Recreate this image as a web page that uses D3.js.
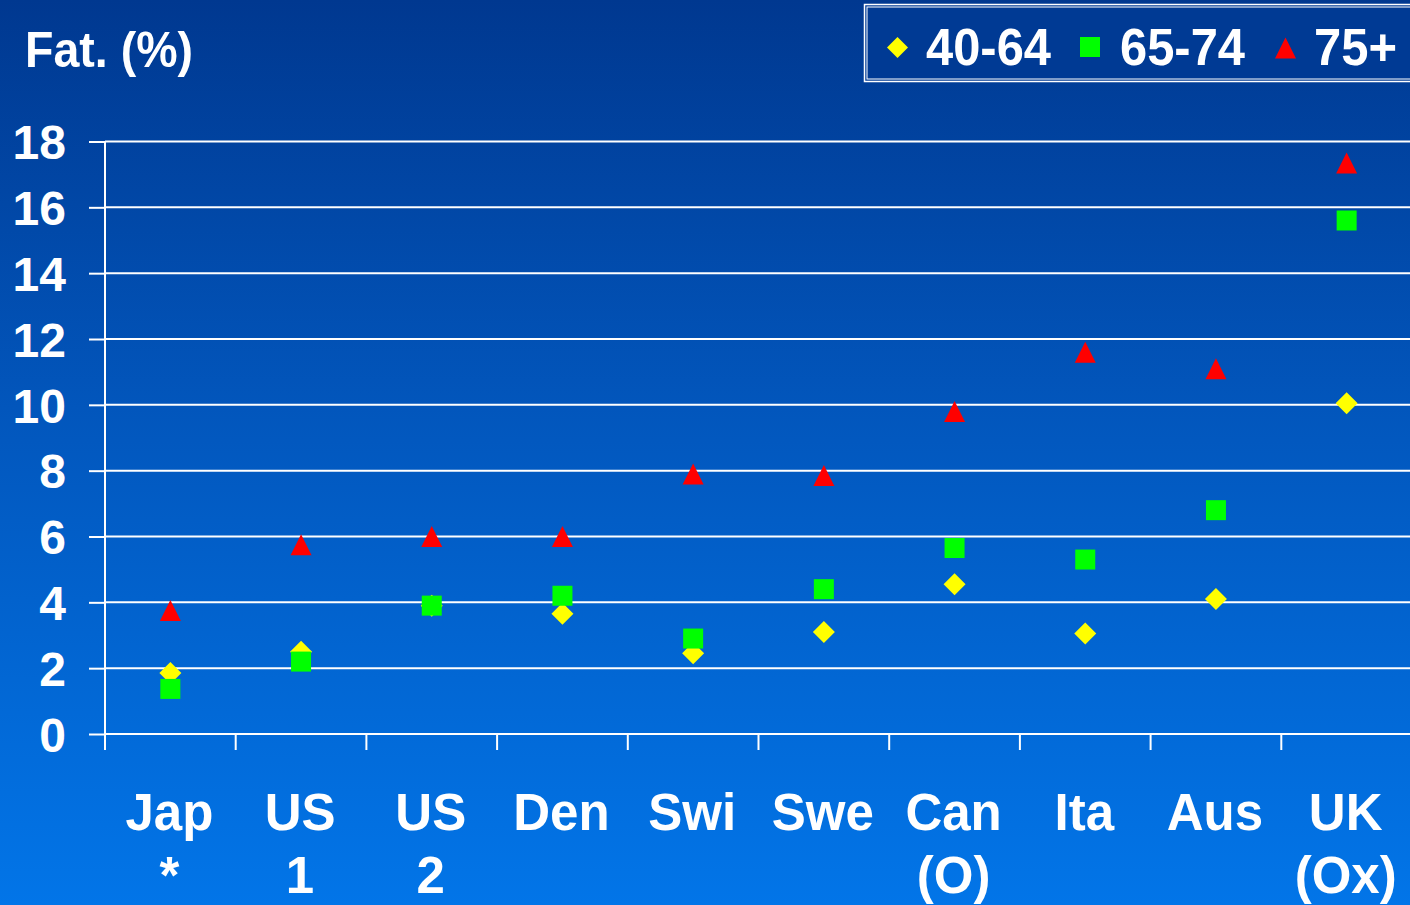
<!DOCTYPE html>
<html>
<head>
<meta charset="utf-8">
<script src="https://cdn.jsdelivr.net/npm/d3@7"></script>
<style>
html,body{margin:0;padding:0;background:#0050b0;}
svg{display:block;}
text{font-family:"Liberation Sans",Arial,sans-serif;font-weight:bold;fill:#fff;}
</style>
</head>
<body>
<script>
// ---- data ----
const catLine1 = ["Jap","US","US","Den","Swi","Swe","Can","Ita","Aus","UK"];
const catLine2 = ["*","1","2","","","","(O)","","","(Ox)"];
const series = ["40-64","65-74","75+"];
const age40_64 = [1.85, 2.5, 3.9, 3.65, 2.45, 3.1, 4.55, 3.05, 4.1, 10.05];
const age65_74 = [1.37, 2.2, 3.9, 4.2, 2.9, 4.4, 5.65, 5.3, 6.8, 15.6];
const age75p   = [3.75, 5.75, 6.0, 6.0, 7.9, 7.85, 9.8, 11.6, 11.1, 17.35];
const yTicks = [0,2,4,6,8,10,12,14,16,18];
const yTitle = "Fat. (%)";

const W = 1410, H = 905;
const svg = d3.select("body").append("svg").attr("width", W).attr("height", H);

const defs = svg.append("defs");
const grad = defs.append("linearGradient").attr("id","bg").attr("x1",0).attr("y1",0).attr("x2",0).attr("y2",1);
grad.append("stop").attr("offset","0%").attr("stop-color","#003890");
grad.append("stop").attr("offset","45%").attr("stop-color","#0256bc");
grad.append("stop").attr("offset","100%").attr("stop-color","#0275e8");
svg.append("rect").attr("width",W).attr("height",H).attr("fill","url(#bg)");

const x = d3.scaleBand().domain(d3.range(catLine1.length)).range([105, 1412]).padding(0);
const y = d3.scaleLinear().domain([0,18]).range([734, 141.5]);

// gridlines
svg.append("g").selectAll("line").data(yTicks).join("line")
  .attr("x1",105).attr("x2",W).attr("y1",d=>y(d)).attr("y2",d=>y(d))
  .attr("stroke","#fff").attr("stroke-width",2);

// y axis
const yAxis = d3.axisLeft(y).tickValues(yTicks).tickSize(16).tickPadding(23).tickFormat(d3.format("d"));
const gy = svg.append("g").attr("transform","translate(105,0)").call(yAxis);
gy.select(".domain").remove();
gy.selectAll(".tick line").attr("stroke","#fff").attr("stroke-width",2);
gy.selectAll(".tick text").attr("fill","#fff").style("font-size","48px").style("font-weight","bold")
  .style("font-family","'Liberation Sans',Arial,sans-serif").attr("dy","0.36em");
svg.append("line").attr("x1",105).attr("x2",105).attr("y1",141.5).attr("y2",750)
  .attr("stroke","#fff").attr("stroke-width",2);

// x axis ticks (category boundaries)
const bounds = d3.range(catLine1.length).map(i => x(i));
svg.append("g").selectAll("line").data(bounds).join("line")
  .attr("x1",d=>d).attr("x2",d=>d).attr("y1",734).attr("y2",750)
  .attr("stroke","#fff").attr("stroke-width",2);

// x labels
const xl = svg.append("g").selectAll("g").data(catLine1).join("g")
  .attr("transform",(d,i)=>`translate(${x(i)+x.bandwidth()/2 - 1},0)`);
xl.append("text").attr("y",830).attr("text-anchor","middle").style("font-size","51px").text(d=>d);
xl.append("text").attr("y",893).attr("text-anchor","middle").style("font-size","51px").text((d,i)=>catLine2[i]);

// title
svg.append("text").attr("x",25).attr("y",67).style("font-size","50px")
  .attr("textLength",168).attr("lengthAdjust","spacingAndGlyphs").text(yTitle);

// markers
const cx = i => x(i) + x.bandwidth()/2;
const diamond = s => `M0,${-s}L${s},0L0,${s}L${-s},0Z`;
const tri = s => `M0,${-s}L${s},${s}L${-s},${s}Z`;

svg.append("g").selectAll("path").data(age40_64).join("path")
  .attr("d", diamond(11)).attr("fill","#ffff00")
  .attr("transform",(d,i)=>`translate(${cx(i)},${y(d)})`);
svg.append("g").selectAll("rect").data(age65_74).join("rect")
  .attr("x",(d,i)=>cx(i)-10).attr("y",d=>y(d)-10).attr("width",20).attr("height",20)
  .attr("fill","#00ff00");
svg.append("g").selectAll("path").data(age75p).join("path")
  .attr("d", tri(10.5)).attr("fill","#ff0000")
  .attr("transform",(d,i)=>`translate(${cx(i)},${y(d)})`);

// legend
const lg = svg.append("g");
lg.append("rect").attr("x",864.5).attr("y",4.5).attr("width",560).attr("height",77)
  .attr("fill","#003a94").attr("stroke","#fff").attr("stroke-width",1.5);
lg.append("rect").attr("x",867).attr("y",7).attr("width",560).attr("height",72)
  .attr("fill","none").attr("stroke","#fff").attr("stroke-width",1);
const legItems = [
  {name:series[0], sx:897.5, tx:926, tw:125},
  {name:series[1], sx:1090, tx:1120, tw:125},
  {name:series[2], sx:1285.5, tx:1314, tw:83}
];
lg.append("path").attr("d",diamond(10.5)).attr("fill","#ffff00").attr("transform",`translate(${legItems[0].sx},47.5)`);
lg.append("rect").attr("x",legItems[1].sx-10).attr("y",37).attr("width",20).attr("height",20).attr("fill","#00ff00");
lg.append("path").attr("d",tri(10.5)).attr("fill","#ff0000").attr("transform",`translate(${legItems[2].sx},48)`);
lg.selectAll("text.leg").data(legItems).join("text").attr("class","leg")
  .attr("x",d=>d.tx).attr("y",65).style("font-size","51px")
  .attr("textLength",d=>d.tw).attr("lengthAdjust","spacingAndGlyphs").text(d=>d.name);
</script>
</body>
</html>
